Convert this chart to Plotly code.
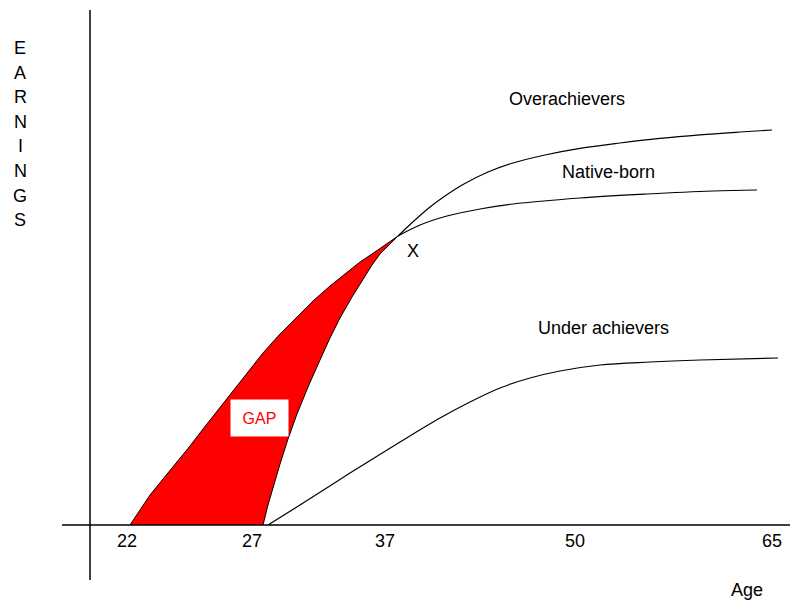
import plotly.graph_objects as go

# Horizontal position (relative to the earnings axis) and earnings level
gap_upper_x = [40, 50, 60, 73, 87, 100, 113, 127, 142, 157, 173, 190, 207, 223, 240, 257, 270, 282, 295, 308]
gap_upper_y = [0, 15, 30, 46, 63, 79, 96, 114, 133, 152, 172, 191, 208, 224, 239, 253, 263, 271, 280, 289]
gap_lower_x = [173, 178, 182, 186, 190, 198, 207, 218, 230, 240, 250, 262, 273, 282, 290, 300, 308]
gap_lower_y = [0, 20, 35, 48, 61, 86, 111, 138, 165, 187, 207, 228, 246, 260, 271, 281, 289]

over_x = [308, 325, 340, 355, 373, 398, 423, 455, 490, 530, 570, 610, 650, 682]
over_y = [289, 305, 318, 329, 340.5, 353, 362, 370, 376.6, 382, 386.6, 390.2, 393, 395]

native_x = [308, 330, 357, 390, 423, 490, 557, 623, 667]
native_y = [289, 300, 309, 316, 321, 327, 331, 334, 335]

under_x = [178, 210, 260, 310, 350, 380, 410, 440, 470, 510, 560, 610, 688]
under_y = [0, 20, 52, 83, 107, 123, 137, 147, 154, 160, 163, 165, 167]

tick_pos = [37, 162, 295, 485, 682]
tick_labels = ["22", "27", "37", "50", "65"]
y_letters = list("EARNINGS")

FONT = "Liberation Sans, Arial, sans-serif"
fig = go.Figure()

# GAP region
poly_x = gap_upper_x + gap_lower_x[::-1]
poly_y = gap_upper_y + gap_lower_y[::-1]
fig.add_trace(go.Scatter(x=poly_x, y=poly_y, mode="lines", fill="toself",
                         fillcolor="#ff0000", line=dict(color="black", width=1),
                         hoverinfo="skip"))
for xs, ys in [(over_x, over_y), (native_x, native_y), (under_x, under_y)]:
    fig.add_trace(go.Scatter(x=xs, y=ys, mode="lines", line_shape="spline",
                             line=dict(color="black", width=1.2), hoverinfo="skip"))

# axes lines
fig.add_shape(type="line", x0=0, x1=0, y0=-55, y1=515, line=dict(color="black", width=1.5))
fig.add_shape(type="line", x0=-28, x1=708, y0=0, y1=0, line=dict(color="black", width=1.5))

ann = []
for p, t in zip(tick_pos, tick_labels):
    ann.append(dict(x=p, y=-16, text=t, showarrow=False))
ann.append(dict(x=657, y=-65, text="Age", showarrow=False))
for i, ch in enumerate(y_letters):
    ann.append(dict(x=-70, y=477 - i * 24.6, text=ch, showarrow=False))
ann.append(dict(x=477, y=426, text="Overachievers", showarrow=False))
ann.append(dict(x=518, y=353, text="Native-born", showarrow=False))
ann.append(dict(x=513, y=197, text="Under achievers", showarrow=False))
ann.append(dict(x=323, y=274, text="X", showarrow=False))
ann.append(dict(x=169, y=107, text="GAP", showarrow=False, bgcolor="white",
                font=dict(color="#ff0000", size=16), width=55, height=34))

fig.update_layout(
    width=790, height=593, margin=dict(l=0, r=0, t=0, b=0),
    paper_bgcolor="white", plot_bgcolor="white", showlegend=False,
    font=dict(family=FONT, size=18, color="black"),
    annotations=ann,
    xaxis=dict(range=[-82, 708], visible=False, fixedrange=True),
    yaxis=dict(range=[-76, 517], visible=False, fixedrange=True),
)
fig.write_html("out.html")
